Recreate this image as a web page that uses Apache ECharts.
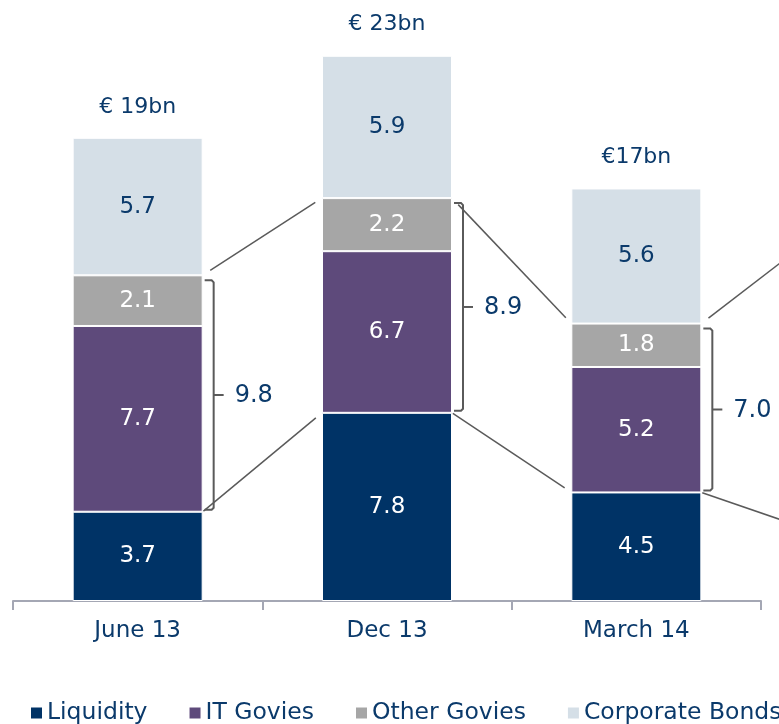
<!DOCTYPE html>
<html>
<head>
<meta charset="utf-8">
<script src="https://cdn.jsdelivr.net/npm/echarts@6/dist/echarts.min.js"></script>
<style>html,body{margin:0;padding:0;background:#fff}#c{width:779px;height:724px}</style>
</head>
<body>
<div id="c"></div>
<script>
const categories = ['June 13', 'Dec 13', 'March 14'];
const liquidity = [3.7, 7.8, 4.5];
const itGovies = [7.7, 6.7, 5.2];
const otherGovies = [2.1, 2.2, 1.8];
const corporateBonds = [5.7, 5.9, 5.6];
const totalLabels = ['€ 19bn', '€ 23bn', '€17bn'];
const bracketLabels = ['9.8', '8.9', '7.0'];
// next period (cut off at the right edge): liquidity top and liquidity+IT+other top
const nextLiquidity = 2.8;
const nextLiqItOther = 15.3;

const NAVY = '#0b3a6b';
const FONT = 'DejaVu Sans';
const BAR_W = 130;
const colors = ['#003366', '#5e4a7b', '#a6a6a6', '#d5dfe7'];

const chart = echarts.init(document.getElementById('c'), null, {renderer: 'canvas'});

function barSeries(name, data, color, labelColor) {
  return {
    name, type: 'bar', stack: 'total', data, barWidth: BAR_W,
    itemStyle: {color, borderColor: '#fff', borderWidth: 1},
    label: {show: true, position: 'inside', color: labelColor, fontFamily: FONT, fontSize: 23,
      formatter: p => p.value.toFixed(1)},
    emphasis: {disabled: true}
  };
}

function renderOverlay(params, api) {
  const i = params.dataIndex;
  const half = BAR_W / 2;
  const band = api.size([1, 0])[0];
  const midTop = liquidity.map((v, k) => v + itGovies[k] + otherGovies[k]);
  const total = liquidity.map((v, k) => v + itGovies[k] + otherGovies[k] + corporateBonds[k]);
  const cx = api.coord([i, 0])[0];
  const yLiq = api.coord([i, liquidity[i]])[1];
  const yMid = api.coord([i, midTop[i]])[1];
  const yTot = api.coord([i, total[i]])[1];
  let nx, nLiq, nMid;
  if (i < categories.length - 1) {
    nx = api.coord([i + 1, 0])[0];
    nLiq = api.coord([i + 1, liquidity[i + 1]])[1];
    nMid = api.coord([i + 1, midTop[i + 1]])[1];
  } else {
    nx = cx + band;
    nLiq = api.coord([i, nextLiquidity])[1];
    nMid = api.coord([i, nextLiqItOther])[1];
  }
  const lineStyle = {stroke: '#5a5a5a', lineWidth: 1.5, fill: null};
  function seg(x1, y1, x2, y2, s0, s1) {
    const dx = x2 - x1, dy = y2 - y1, L = Math.hypot(dx, dy);
    return {type: 'line', shape: {x1: x1 + dx * s0 / L, y1: y1 + dy * s0 / L, x2: x2 - dx * s1 / L, y2: y2 - dy * s1 / L}, style: lineStyle, silent: true};
  }
  const children = [];
  children.push(seg(cx + half, yMid, nx - half, nMid, 9, 8));
  children.push(seg(cx + half, yLiq, nx - half, nLiq, 1, 8));
  // bracket
  const bx = cx + half + 11;
  const t = yMid + 5, b = yLiq - 2, m = (t + b) / 2;
  children.push({type: 'polyline', shape: {points: [[bx - 9, t], [bx - 2, t], [bx, t + 2], [bx, b - 2], [bx - 2, b], [bx - 9, b]]},
    style: {stroke: '#5a5a5a', lineWidth: 2, fill: null}, silent: true});
  children.push({type: 'line', shape: {x1: bx, y1: m, x2: bx + 10, y2: m}, style: {stroke: '#5a5a5a', lineWidth: 2}, silent: true});
  children.push({type: 'text', x: bx + 21, y: m + 1, style: {text: bracketLabels[i], fill: NAVY, font: '24px "' + FONT + '"', textVerticalAlign: 'middle', textAlign: 'left'}, silent: true});
  // total label
  children.push({type: 'text', x: cx, y: yTot - 31, style: {text: totalLabels[i], fill: NAVY, font: '22px "' + FONT + '"', textVerticalAlign: 'middle', textAlign: 'center'}, silent: true});
  return {type: 'group', children};
}

chart.setOption({
  animation: false,
  grid: {left: 13, right: 18, top: 22, bottom: 123, containLabel: false},
  legend: {
    data: ['Liquidity', 'IT Govies', 'Other Govies', 'Corporate Bonds'],
    left: 24, top: 696, width: 1200, itemWidth: 13, itemHeight: 13, itemGap: 40, icon: 'rect',
    textStyle: {color: NAVY, fontFamily: FONT, fontSize: 23.5, padding: [0, 0, 0, -1]},
    selectedMode: false
  },
  xAxis: {
    type: 'category', data: categories,
    axisLine: {lineStyle: {color: '#a4a7b4', width: 2}},
    axisTick: {show: true, length: 9, interval: 0, lineStyle: {color: '#a4a7b4', width: 2}},
    axisLabel: {color: NAVY, fontFamily: FONT, fontSize: 23, margin: 19, interval: 0}
  },
  yAxis: {type: 'value', min: 0, max: 24, show: false, splitLine: {show: false}},
  series: [
    barSeries('Liquidity', liquidity, colors[0], '#fff'),
    barSeries('IT Govies', itGovies, colors[1], '#fff'),
    barSeries('Other Govies', otherGovies, colors[2], '#fff'),
    barSeries('Corporate Bonds', corporateBonds, colors[3], NAVY),
    {
      type: 'custom', name: 'overlay', data: [[0, 0], [1, 0], [2, 0]],
      encode: {x: 0, y: 1}, renderItem: renderOverlay, z: 5, silent: true, clip: false
    }
  ]
});
</script>
</body>
</html>
